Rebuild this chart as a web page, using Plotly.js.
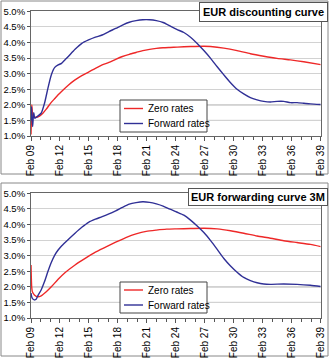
<!DOCTYPE html>
<html><head><meta charset="utf-8">
<script src="https://cdn.plot.ly/plotly-3.0.1.min.js"></script>
<style>html,body{margin:0;padding:0;background:#fff;} #chart{width:329px;height:358px;}</style>
</head><body><div id="chart"></div>
<script>
// Series names and chart titles
const seriesNames = ["Zero rates", "Forward rates"];
const chartTitles = ["EUR discounting curve", "EUR forwarding curve 3M"];
const startDate = "2009-02-01";
const endDate = "2039-02-01";

// Time in years from Feb 2009; rates in %
// --- Discounting curve ---
const discZeroT = [0,0.04,0.08,0.15,0.25,0.53,0.88,1.23,1.58,2.1,2.46,2.81,3.16,3.86,4.56,5.26,5.96,6.67,7.37,8.07,8.77,9.47,10.18,10.88,11.58,12.28,12.98,13.68,14.39,15.14,16.52,17.9,18.6,19.97,21.34,22.72,24.1,25.48,26.86,28.24,30];
const discZero  = [1.05,1.5,2.0,1.75,1.62,1.6,1.64,1.73,1.86,2.08,2.2,2.32,2.43,2.63,2.80,2.94,3.05,3.17,3.28,3.36,3.46,3.55,3.62,3.68,3.74,3.78,3.81,3.83,3.84,3.85,3.87,3.88,3.87,3.82,3.74,3.64,3.56,3.49,3.44,3.38,3.29];
const discFwdT  = [0,0.05,0.1,0.17,0.28,0.4,0.7,1.05,1.4,1.75,2.1,2.46,2.81,3.16,3.51,3.86,4.56,5.26,5.96,6.67,7.37,8.07,8.77,9.47,10.18,10.88,11.58,12.28,12.98,13.68,14.39,15.09,15.83,16.52,17.21,17.9,18.6,19.28,19.97,20.66,21.34,22.03,22.72,23.41,24.1,24.79,25.48,26.17,26.86,27.55,28.24,28.93,30];
const discFwd   = [1.5,1.94,1.6,1.3,1.75,1.57,1.64,1.73,2.05,2.53,2.96,3.2,3.28,3.33,3.44,3.55,3.78,3.97,4.08,4.17,4.24,4.35,4.45,4.56,4.65,4.70,4.73,4.73,4.70,4.64,4.53,4.42,4.32,4.17,3.97,3.74,3.49,3.22,2.96,2.71,2.50,2.35,2.23,2.16,2.11,2.09,2.11,2.11,2.07,2.07,2.05,2.03,2.01];

// --- Forwarding curve 3M ---
const fwd3mZeroT = [0,0.03,0.07,0.14,0.35,0.7,1.05,1.58,2.1,2.81,3.51,4.56,5.61,6.67,7.72,8.77,9.82,10.88,11.93,12.98,14.04,15.1,16.52,17.9,19.28,20.66,22.03,23.41,24.79,26.17,27.55,28.93,30];
const fwd3mZero  = [2.70,2.33,2.0,1.84,1.74,1.68,1.71,1.84,2.0,2.24,2.45,2.70,2.91,3.11,3.27,3.43,3.58,3.70,3.78,3.82,3.85,3.86,3.87,3.88,3.86,3.80,3.72,3.63,3.56,3.48,3.42,3.36,3.29];
const fwd3mFwdT  = [0,0.07,0.14,0.35,0.53,0.7,1.05,1.4,1.75,2.1,2.46,2.81,3.16,3.86,4.56,5.26,5.96,6.67,7.37,8.07,8.77,9.47,10.18,10.88,11.58,12.28,12.98,13.68,14.39,15.09,15.83,16.52,17.21,17.9,18.6,19.28,19.97,20.66,21.34,22.03,22.72,23.41,24.1,24.79,26.17,27.55,28.93,30];
const fwd3mFwd   = [1.80,1.68,1.63,1.58,1.60,1.71,1.9,2.17,2.49,2.78,3.02,3.18,3.31,3.52,3.72,3.91,4.07,4.17,4.25,4.34,4.44,4.55,4.65,4.70,4.73,4.71,4.66,4.59,4.49,4.40,4.30,4.14,3.95,3.74,3.48,3.20,2.91,2.67,2.47,2.30,2.20,2.13,2.09,2.08,2.09,2.08,2.05,2.01];

const darkGridLevels = [1.5, 2.0];

function toDate(t) {
  const ms = Date.UTC(2009, 1, 1) + t * 365.25 * 86400000;
  return new Date(ms).toISOString().replace('T', ' ').slice(0, 19);
}

const FONT = "Liberation Sans, Arial, sans-serif";
const RED = "rgb(238,40,40)";
const BLUE = "rgb(48,48,150)";
const COLORS = [RED, BLUE];

function mk(tArr, vArr, name, color, ax) {
  return {
    type: "scatter", mode: "lines", name: name,
    x: tArr.map(toDate), y: vArr,
    xaxis: ax[0], yaxis: ax[1], showlegend: false,
    line: {color: color, width: 1.4, shape: "spline", smoothing: 0.6},
    hoverinfo: "skip"
  };
}

const traces = [
  mk(discZeroT, discZero, seriesNames[0], RED, ["x", "y"]),
  mk(discFwdT, discFwd, seriesNames[1], BLUE, ["x", "y"]),
  mk(fwd3mZeroT, fwd3mZero, seriesNames[0], RED, ["x2", "y2"]),
  mk(fwd3mFwdT, fwd3mFwd, seriesNames[1], BLUE, ["x2", "y2"])
];

const W = 329, H = 358;
const px = v => v / W;
const py = v => 1 - v / H;

function xAxis(anchor, dom) {
  return {
    type: "date", domain: dom, anchor: anchor,
    range: [startDate, endDate],
    tickmode: "linear", tick0: startDate, dtick: "M36", tickformat: "%b %y",
    tickangle: -90, ticks: "outside", ticklen: 4, tickcolor: "#555",
    minor: {dtick: "M12", tick0: startDate, ticks: "outside", ticklen: 3, tickcolor: "#555", showgrid: false},
    showgrid: false, zeroline: false,
    showline: true, linecolor: "#666", linewidth: 1, mirror: true,
    tickfont: {family: FONT, size: 10, color: "#000"}
  };
}
function yAxis(anchor, dom) {
  return {
    domain: dom, anchor: anchor, range: [1, 5],
    tickmode: "linear", tick0: 1, dtick: 0.5, tickformat: ".1f", ticksuffix: "%",
    ticks: "outside", ticklen: 3, tickcolor: "#555",
    showgrid: true, gridcolor: "#d2d2d2", gridwidth: 1, zeroline: false,
    showline: true, linecolor: "#666", linewidth: 1, mirror: true,
    tickfont: {family: FONT, size: 9.5, color: "#000"}
  };
}

const xDom = [px(31), px(320.7)];
const shapes = [
  {type: "rect", xref: "paper", yref: "paper", x0: px(1), x1: px(328), y0: py(174), y1: py(1), line: {color: "#888", width: 1}, layer: "below"},
  {type: "rect", xref: "paper", yref: "paper", x0: px(1), x1: px(328), y0: py(356), y1: py(183), line: {color: "#888", width: 1}, layer: "below"}
];
darkGridLevels.forEach(v => {
  shapes.push({type: "line", xref: "x domain", yref: "y", x0: 0, x1: 1, y0: v, y1: v, line: {color: "#8c8c8c", width: 1}, layer: "below"});
  shapes.push({type: "line", xref: "x2 domain", yref: "y2", x0: 0, x1: 1, y0: v, y1: v, line: {color: "#8c8c8c", width: 1}, layer: "below"});
});

const annotations = [
  {text: "<b>" + chartTitles[0] + "</b>", xref: "paper", yref: "paper", x: px(327.5), y: py(2.5), xanchor: "right", yanchor: "top",
   showarrow: false, bgcolor: "#fff", bordercolor: "#555", borderwidth: 1, borderpad: 3, font: {family: FONT, size: 11, color: "#000"}},
  {text: "<b>" + chartTitles[1] + "</b>", xref: "paper", yref: "paper", x: px(327.5), y: py(187.5), xanchor: "right", yanchor: "top",
   showarrow: false, bgcolor: "#fff", bordercolor: "#555", borderwidth: 1, borderpad: 2, font: {family: FONT, size: 11, color: "#000"}}
];

// Legend boxes (drawn as shapes + text, Excel style)
function addLegend(top, bottom, row1, row2) {
  shapes.push({type: "rect", xref: "paper", yref: "paper", x0: px(120), x1: px(207), y0: py(bottom), y1: py(top),
               fillcolor: "#fff", line: {color: "#444", width: 1}, layer: "above"});
  [row1, row2].forEach((ry, i) => {
    shapes.push({type: "line", xref: "paper", yref: "paper", x0: px(124), x1: px(143), y0: py(ry), y1: py(ry),
                 line: {color: COLORS[i], width: 1.4}, layer: "above"});
    annotations.push({text: seriesNames[i], xref: "paper", yref: "paper", x: px(146), y: py(ry), xanchor: "left", yanchor: "middle",
                      showarrow: false, font: {family: FONT, size: 10, color: "#000"}});
  });
}
addLegend(100, 132, 108.5, 123.5);
addLegend(282, 313, 290, 305);

const layout = {
  width: W, height: H,
  margin: {l: 0, r: 0, t: 0, b: 0},
  paper_bgcolor: "#fff", plot_bgcolor: "#fff",
  showlegend: false,
  xaxis: xAxis("y", xDom),
  yaxis: yAxis("x", [py(136), py(11.3)]),
  xaxis2: xAxis("y2", xDom),
  yaxis2: yAxis("x2", [py(318), py(193.3)]),
  shapes: shapes,
  annotations: annotations
};

Plotly.newPlot("chart", traces, layout, {staticPlot: true, displayModeBar: false});
</script></body></html>
